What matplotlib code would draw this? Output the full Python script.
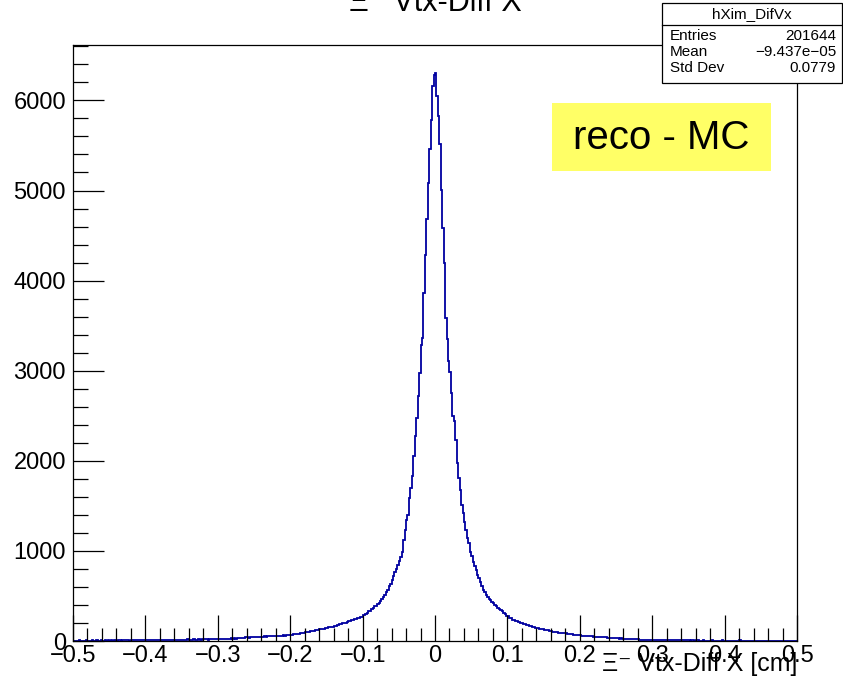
import numpy as np
import matplotlib
matplotlib.use("Agg")
import matplotlib.pyplot as plt
from matplotlib.patches import Rectangle
from matplotlib.ticker import MultipleLocator, FixedLocator, FixedFormatter

# ---------------- data ----------------
x_range = (-0.5, 0.5)
n_bins = 500

# bins 0..249 (x from -0.5 to 0)
left_tail_far = [3,5,4,2,6,4,3,5,4,6,3,5,
                 4,6,5,3,7,4,5,6,4,5,7,5,
                 6,4,7,5,6,8,5,6,7,5,8,6,
                 7,6,8,5,9,7,6,8,7,9,6,8,
                 8,9,7,9,8,10,7,9,10,8,10,9,
                 10,11,9,11,10,12,11,12,10,13,12,13]
left_tail_mid = [13,15,12,14,16,13,15,17,14,16,15,18,16,14,17,19,16,18,17,20,
                 18,16,19,21,18,20,22,19]
left_tail_near = [22,24,21,25,23,26,24,27,25,28,26,29,27,30,31]
left_shoulder = [34,36,38,35,39,41,38,42,40,44,43,41,45,47,44,48,46,50,49,52,
                 50,54,53,51,56,55,58,57,60,59,62,61,64,66,63,68,70]
left_rise1 = [74,78,80,83,82,87,90,93,96,99,102,105,108,111,114,117,121,124,128]
left_rise2 = [131,136,137,143,144,150,151,158,160,167,169,176,179,186,188,195,198]
left_rise3 = [205,209,217,219,229,232,241,244,254,256,267,270]
left_rise4 = [286,291,305,311,328,338,357,366,384,394,412,425,447,463,489,510,
              542,568,605,638,682,720,770,798,847,888]
left_core = [937,993,1122,1233,1344,1400,1585,1696,1833,2056,2278,2474,2715,
             2974,3289,3363,3863,4289,4685,5078,5463,5778,6159,6280]

# bins 250..499 (x from 0 to 0.5)
right_core = [6300,6048,5826,5511,5004,4585,4196,3585,3352,3104,2990,2752,2493,
              2437,2233,1974,1810,1678,1511,1419,1326,1233,1140,1085,993,940]
right_fall1 = [882,828,787,738,703,652,612,568,542,510,
               492,468,455,431,417,396,385,368,359,341,
               330,310,299,281,272,256,250,238,235,224,
               221,210,208,198,196,186,185,175,174,165,
               164,156,155,148,147,139,138,131,131,124,
               123,117,117,111,111,105,105,99,99,94,
               94,89,89,84,85,79,80,75,76,71,
               72,67,68,64]
right_fall2 = [64,61,61,58,58,55,55,52,52,49,49,47,46,44]
right_fall3 = [45,42,42,39,40,36,37,34,34,31,32,29]
right_fall4 = [30,27,28,25,26,23,24,22,22,20,21,18,19,17]
right_fall5 = [17,15,16,14,14,12,13,11,12,10]
right_tail_mid = [10,9,11,8,10,9,8,10,7,9,8,9,7,8,9,6,8,7,8,6,7,8,6,7,6,7,5,7,6,5,7,6,5]
right_tail_far = [5,4,6,4,5,3,5,4,6,4,
                  5,3,4,5,4,6,3,5,4,4,
                  5,3,4,4,5,3,4,6,3,4,
                  4,5,3,4,3,5,4,3,4,5,
                  3,4,4,3,5,3,4,3,4,3,
                  4,3,5,3,3,4,3,4,2,4,
                  3,3,4,2,3,4,3]

x_ticks = [-0.5, -0.4, -0.3, -0.2, -0.1, 0.0, 0.1, 0.2, 0.3, 0.4, 0.5]
x_tick_labels = ["\u22120.5", "\u22120.4", "\u22120.3", "\u22120.2", "\u22120.1", "0",
                 "0.1", "0.2", "0.3", "0.4", "0.5"]
y_ticks = [0, 1000, 2000, 3000, 4000, 5000, 6000]
y_tick_labels = ["0", "1000", "2000", "3000", "4000", "5000", "6000"]

title_text = "\u039e\u207b Vtx-Diff X"
x_title = "\u039e\u207b Vtx-Diff X [cm]"
stats_name = "hXim_DifVx"
stats_rows = [("Entries", "201644"), ("Mean", "\u22129.437e\u221205"), ("Std Dev", "0.0779")]
label_text = "reco - MC"

counts = np.array(left_tail_far + left_tail_mid + left_tail_near + left_shoulder +
                  left_rise1 + left_rise2 + left_rise3 + left_rise4 + left_core +
                  right_core + right_fall1 + right_fall2 + right_fall3 + right_fall4 +
                  right_fall5 + right_tail_mid + right_tail_far, dtype=float)
edges = np.linspace(x_range[0], x_range[1], n_bins + 1)

# ---------------- plot ----------------
plt.rcParams['font.family'] = ['Liberation Sans', 'DejaVu Sans']

W, H = 843, 696
fig = plt.figure(figsize=(W / 100, H / 100), dpi=100)
ax = fig.add_axes([73 / W, 1 - 641 / H, (797 - 73) / W, (641 - 45) / H])

ax.stairs(counts, edges, color='#0000a0', linewidth=1.3, baseline=None)

ax.set_xlim(*x_range)
ax.set_ylim(0, counts.max() * 1.05)

ax.xaxis.set_major_locator(FixedLocator(x_ticks))
ax.xaxis.set_major_formatter(FixedFormatter(x_tick_labels))
ax.xaxis.set_minor_locator(MultipleLocator(0.02))
ax.yaxis.set_major_locator(FixedLocator(y_ticks))
ax.yaxis.set_major_formatter(FixedFormatter(y_tick_labels))
ax.yaxis.set_minor_locator(MultipleLocator(200))

ax.tick_params(axis='both', which='both', direction='in', top=False, right=False,
               colors='black', labelsize=17)
ax.tick_params(axis='x', which='major', length=19, width=0.9, pad=3)
ax.tick_params(axis='x', which='minor', length=9.5, width=0.9)
ax.tick_params(axis='y', which='major', length=22, width=0.9, pad=5)
ax.tick_params(axis='y', which='minor', length=11, width=0.9)
for s in ax.spines.values():
    s.set_linewidth(0.9)
    s.set_color('black')

fig.text(797 / W, 1 - 671 / H, x_title, ha='right', va='baseline', fontsize=18)

# title (partly above the canvas)
fig.text(435 / W, 1 - 11 / H, title_text, ha='center', va='baseline', fontsize=22)

# stats box
bx0, bx1, by0, by1 = 662, 842, 3, 83
fig.patches.append(Rectangle((bx0 / W, 1 - by1 / H), (bx1 - bx0) / W, (by1 - by0) / H,
                             transform=fig.transFigure, facecolor='white',
                             edgecolor='black', linewidth=0.9, zorder=5))
fig.lines.append(plt.Line2D([bx0 / W, bx1 / W], [1 - 25 / H, 1 - 25 / H],
                            transform=fig.transFigure, color='black', lw=0.9, zorder=6))
fig.text((bx0 + bx1) / 2 / W, 1 - 14 / H, stats_name, ha='center', va='center',
         fontsize=11, zorder=7)
row_y = [36, 52, 68]
for (k, v), yy in zip(stats_rows, row_y):
    fig.text((bx0 + 8) / W, 1 - yy / H, k, ha='left', va='center', fontsize=11, zorder=7)
    fig.text((bx1 - 6) / W, 1 - yy / H, v, ha='right', va='center', fontsize=11, zorder=7)

# yellow label
fig.patches.append(Rectangle((552 / W, 1 - 171 / H), (771 - 552) / W, (171 - 103) / H,
                             transform=fig.transFigure, facecolor='#ffff66',
                             edgecolor='none', zorder=4))
fig.text((552 + 771) / 2 / W, 1 - 138 / H, label_text, ha='center', va='center',
         fontsize=29, zorder=7)

fig.savefig("out.png", dpi=100)
